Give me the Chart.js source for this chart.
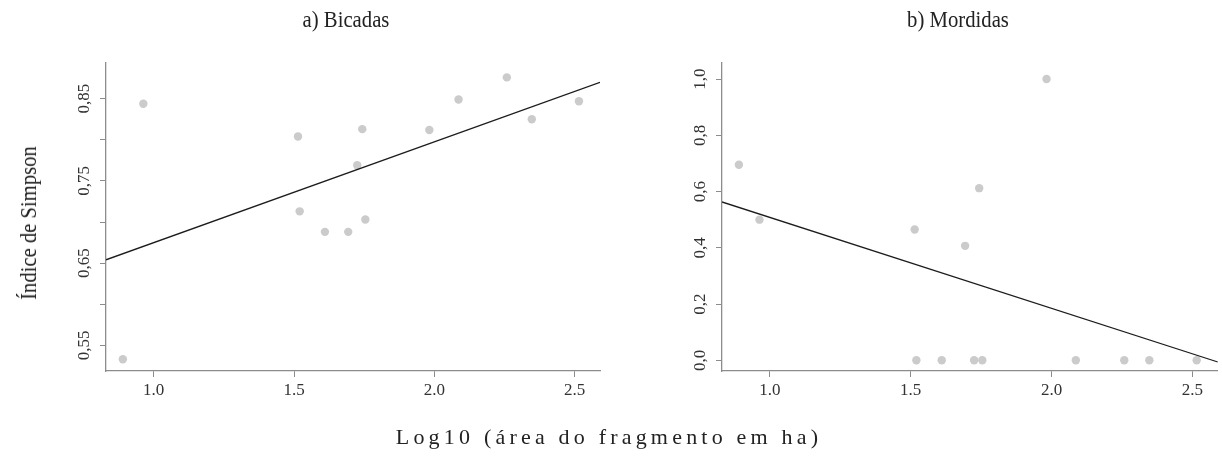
<!DOCTYPE html>
<html>
<head>
<meta charset="utf-8">
<script src="https://cdn.jsdelivr.net/npm/chart.js@4.4.0/dist/chart.umd.min.js"></script>
<style>
  html, body { margin: 0; padding: 0; background: #fff; }
  #wrap { position: relative; width: 1222px; height: 458px; overflow: hidden;
          font-family: "Liberation Serif", "Times New Roman", serif; color: #222; }
  canvas { position: absolute; top: 0; }
  .lbl { position: absolute; white-space: nowrap; line-height: 1; transform: translate(-50%, -50%); }
  .title { transform: translate(-50%, -50%) scaleX(0.9); }
  #ylab { transform: translate(-50%, -50%) rotate(-90deg) scaleX(0.86); }
</style>
</head>
<body>
<div id="wrap">
  <canvas id="cA" width="611" height="458" style="left:0"></canvas>
  <canvas id="cB" width="611" height="458" style="left:611px"></canvas>
  <div class="lbl title" id="tA" style="left:346px; top:19px; font-size:23px;">a) Bicadas</div>
  <div class="lbl title" id="tB" style="left:958px; top:19px; font-size:23px;">b) Mordidas</div>
  <div class="lbl" id="ylab" style="left:28px; top:223px; font-size:24px;">Índice de Simpson</div>
  <div class="lbl" id="xlab" style="left:609px; top:437px; font-size:22px; letter-spacing:4.2px;">Log10 (área do fragmento em ha)</div>
</div>
<script>
// Log10 of fragment area (ha), shared by both panels
const logArea = [0.890, 0.963, 1.514, 1.520, 1.610, 1.693, 1.725, 1.743, 1.754, 1.982, 2.086, 2.258, 2.347, 2.515];
// Simpson index per fragment
const simpsonBicadas  = [0.533, 0.844, 0.804, 0.713, 0.688, 0.688, 0.769, 0.813, 0.703, 0.812, 0.849, 0.876, 0.825, 0.847];
const simpsonMordidas = [0.695, 0.500, 0.465, 0.000, 0.000, 0.407, 0.000, 0.612, 0.000, 1.000, 0.000, 0.000, 0.000, 0.000];

// Fitted regression lines (end points)
const fitX = [0.83, 2.59];
const fitBicadasY  = [0.654, 0.870];
const fitMordidasY = [0.563, -0.006];

// Axis ticks
const xTickVals = [1.0, 1.5, 2.0, 2.5];
const xTickText = ['1.0', '1.5', '2.0', '2.5'];
const yTickValsA = [0.55, 0.60, 0.65, 0.70, 0.75, 0.80, 0.85];
const yTickTextA = ['0,55', '', '0,65', '', '0,75', '', '0,85'];
const yTickValsB = [0.0, 0.2, 0.4, 0.6, 0.8, 1.0];
const yTickTextB = ['0,0', '0,2', '0,4', '0,6', '0,8', '1,0'];

const AXIS = '#8c8c8c';
const TEXT = '#333';
const FONT = '"Liberation Serif", "Times New Roman", serif';

// Vertical tick labels for the y axis, written bottom-to-top
const rotatedYLabels = {
  id: 'rotatedYLabels',
  afterDraw(chart, args, opts) {
    const s = chart.scales.y, ctx = chart.ctx;
    ctx.save();
    ctx.font = '17px ' + FONT;
    ctx.fillStyle = TEXT;
    ctx.textAlign = 'center';
    ctx.textBaseline = 'middle';
    s.ticks.forEach((t, i) => {
      const text = opts.labels[i];
      if (!text) return;
      ctx.save();
      ctx.translate(s.right - opts.offset, s.getPixelForValue(t.value));
      ctx.rotate(-Math.PI / 2);
      ctx.fillText(text, 0, 0);
      ctx.restore();
    });
    ctx.restore();
  }
};

function makePanel(canvasId, yValues, fitY, yMin, yMax, yTicks, yText, pad) {
  const pts = logArea.map((x, i) => ({ x: x, y: yValues[i] }));
  const fit = fitX.map((x, i) => ({ x: x, y: fitY[i] }));
  return new Chart(document.getElementById(canvasId), {
    type: 'scatter',
    data: {
      datasets: [
        { data: fit, showLine: true, pointRadius: 0, borderColor: '#1c1c1c', borderWidth: 1.3, order: 0 },
        { data: pts, pointRadius: 4.2, pointHoverRadius: 4.2, backgroundColor: '#cbcbcb', borderWidth: 0, order: 1 }
      ]
    },
    options: {
      responsive: false,
      animation: false,
      events: [],
      layout: { padding: pad },
      plugins: { legend: { display: false }, tooltip: { enabled: false }, title: { display: false },
                 rotatedYLabels: { labels: yText, offset: 21 } },
      scales: {
        x: {
          type: 'linear', min: 0.83, max: 2.59,
          afterBuildTicks: s => { s.ticks = xTickVals.map(v => ({ value: v })); },
          afterFit: s => { s.height = 40; },
          ticks: { callback: (v, i) => xTickText[i], color: TEXT, font: { family: FONT, size: 17 }, padding: 3, maxRotation: 0 },
          grid: { drawOnChartArea: false, drawTicks: true, tickLength: 6, color: AXIS, lineWidth: 1 },
          border: { display: true, color: AXIS, width: 1.3 }
        },
        y: {
          type: 'linear', min: yMin, max: yMax,
          afterBuildTicks: s => { s.ticks = yTicks.map(v => ({ value: v })); },
          afterFit: s => { s.width = 46; },
          ticks: { display: false },
          grid: { drawOnChartArea: false, drawTicks: true, tickLength: 6, color: AXIS, lineWidth: 1 },
          border: { display: true, color: AXIS, width: 1.3 }
        }
      }
    },
    plugins: [rotatedYLabels]
  });
}

makePanel('cA', simpsonBicadas, fitBicadasY, 0.5187, 0.8935, yTickValsA, yTickTextA,
          { left: 60, right: 11, top: 63, bottom: 47 });
makePanel('cB', simpsonMordidas, fitMordidasY, -0.038, 1.057, yTickValsB, yTickTextB,
          { left: 65, right: 4, top: 63, bottom: 47 });
</script>
</body>
</html>
